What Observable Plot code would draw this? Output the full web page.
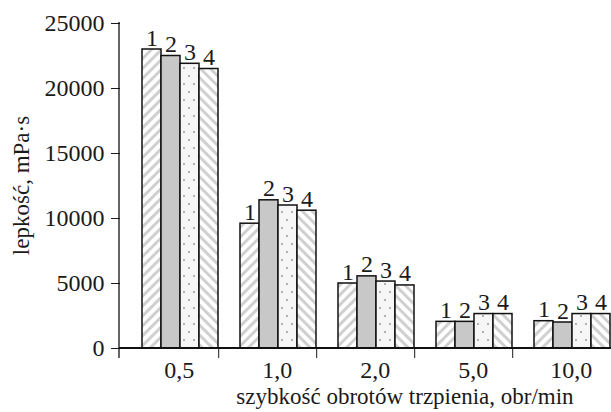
<!DOCTYPE html>
<html>
<head>
<meta charset="utf-8">
<script src="https://cdn.jsdelivr.net/npm/d3@7"></script>
<script src="https://cdn.jsdelivr.net/npm/@observablehq/plot@0.6"></script>
<style>
  html, body { margin: 0; padding: 0; background: #fff; }
</style>
</head>
<body>
<div id="chart"></div>
<script>
// ---- data ----
const groups = ["0,5", "1,0", "2,0", "5,0", "10,0"];
const series = ["1", "2", "3", "4"];
const s1 = [23000, 9600, 5000, 2050, 2100];
const s2 = [22500, 11400, 5550, 2050, 2000];
const s3 = [21900, 11000, 5150, 2650, 2650];
const s4 = [21500, 10600, 4850, 2650, 2650];
const yTicks = [0, 5000, 10000, 15000, 20000, 25000];
const yTitle = "lepkość, mPa·s";
const xTitle = "szybkość obrotów trzpienia, obr/min";

const seriesValues = [s1, s2, s3, s4];
const data = groups.flatMap((g, i) =>
  series.map((s, j) => ({ group: g, series: s, value: seriesValues[j][i] })));

const fills = { "1": "url(#pat1)", "2": "#c8c8c8", "3": "url(#pat3)", "4": "url(#pat4)" };

// ---- layout ----
const W = 611, H = 412, ML = 119, MR = 0, MT = 23, MB = 64;
const step = (W - ML - MR) / groups.length;
const FONT = "Liberation Serif";
const FS = 24;

const chart = Plot.plot({
  width: W, height: H,
  marginLeft: ML, marginRight: MR, marginTop: MT, marginBottom: MB,
  style: { fontFamily: FONT, fontSize: FS + "px", color: "#1a1a1a", background: "white", overflow: "visible" },
  fx: { domain: groups, padding: 0, label: null },
  x: { domain: series, paddingInner: 0, paddingOuter: 0.5, align: 1, axis: null },
  y: { domain: [0, 25000], label: null },
  color: { type: "identity" },
  marks: [
    Plot.barY(data, { fx: "group", x: "series", y: "value", fill: d => fills[d.series], stroke: "#111", strokeWidth: 1.5 }),
    Plot.text(data, { fx: "group", x: "series", y: "value", text: "series", lineAnchor: "bottom", dy: -4, fontSize: FS, fill: "#1a1a1a" }),
    Plot.axisY({ ticks: yTicks, tickSize: 9, tickPadding: 7, fontSize: FS, label: null, tickFormat: d => String(d) }),
    Plot.axisFx({ anchor: "bottom", tickSize: 0, tickPadding: 12, dx: step / 10, label: null, fontSize: FS }),
    Plot.axisFx({ anchor: "bottom", ticks: groups.slice(0, -1), text: null, tickSize: 10, dx: step / 2, label: null })
  ]
});

// patterns
const svg = d3.select(chart);
const defs = svg.insert("defs", ":first-child");
const p1 = defs.append("pattern").attr("id", "pat1").attr("patternUnits", "userSpaceOnUse")
  .attr("width", 7).attr("height", 7).attr("patternTransform", "rotate(45)");
p1.append("rect").attr("width", 7).attr("height", 7).attr("fill", "#fff");
p1.append("rect").attr("width", 3).attr("height", 7).attr("fill", "#d0d0d0");
const p4 = defs.append("pattern").attr("id", "pat4").attr("patternUnits", "userSpaceOnUse")
  .attr("width", 7).attr("height", 7).attr("patternTransform", "rotate(-45)");
p4.append("rect").attr("width", 7).attr("height", 7).attr("fill", "#fff");
p4.append("rect").attr("width", 3).attr("height", 7).attr("fill", "#d0d0d0");
const p3 = defs.append("pattern").attr("id", "pat3").attr("patternUnits", "userSpaceOnUse")
  .attr("width", 10).attr("height", 16);
p3.append("rect").attr("width", 10).attr("height", 16).attr("fill", "#f6f6f6");
p3.append("rect").attr("x", 2).attr("y", 3).attr("width", 2).attr("height", 2).attr("fill", "#b0b0b0");
p3.append("rect").attr("x", 7).attr("y", 11).attr("width", 2).attr("height", 2).attr("fill", "#b0b0b0");

// axis lines from the plot's y scale
const y = chart.scale("y");
const y0 = y.apply(0), yTop = y.apply(25000);
svg.append("line").attr("x1", ML).attr("x2", ML).attr("y1", yTop - 1).attr("y2", y0 + 10)
  .attr("stroke", "#111").attr("stroke-width", 1.3);
svg.append("line").attr("x1", ML).attr("x2", W).attr("y1", y0).attr("y2", y0)
  .attr("stroke", "#111").attr("stroke-width", 2);

// titles
svg.append("text").text(yTitle)
  .attr("transform", `translate(21,${(yTop + y0) / 2}) rotate(-90)`)
  .attr("text-anchor", "middle").attr("dy", "0.35em")
  .attr("font-size", 23).attr("fill", "#1a1a1a");
svg.append("text").text(xTitle)
  .attr("x", 405).attr("y", H - 8)
  .attr("text-anchor", "middle")
  .attr("font-size", 23).attr("fill", "#1a1a1a");

svg.selectAll("text").attr("font-family", FONT).style("font-family", FONT);

document.getElementById("chart").appendChild(chart);
</script>
</body>
</html>
